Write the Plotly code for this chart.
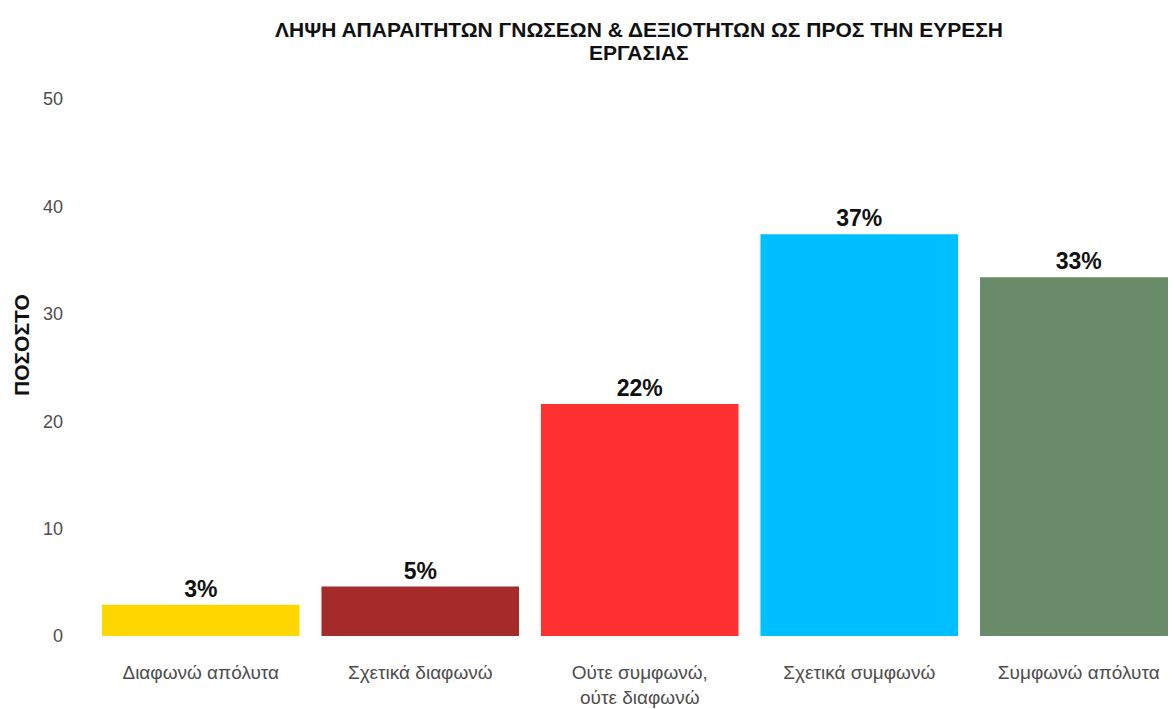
import plotly.graph_objects as go

categories = ["Διαφωνώ απόλυτα", "Σχετικά διαφωνώ", "Ούτε συμφωνώ,<br>ούτε διαφωνώ",
              "Σχετικά συμφωνώ", "Συμφωνώ απόλυτα"]
values = [2.9, 4.6, 21.6, 37.4, 33.4]
colors = ["#FFD700", "#A52A2A", "#FF3030", "#00BFFF", "#698B69"]
y_ticks = [0, 10, 20, 30, 40, 50]
title_lines = ["ΛΗΨΗ ΑΠΑΡΑΙΤΗΤΩΝ ΓΝΩΣΕΩΝ & ΔΕΞΙΟΤΗΤΩΝ ΩΣ ΠΡΟΣ ΤΗΝ ΕΥΡΕΣΗ", "ΕΡΓΑΣΙΑΣ"]

W, H = 1176, 709
L, R, T, B = 83, 0, 91, 81
PW, PH = W - L - R, H - T - B
bottom = H - B

def py(y):
    return (bottom - y) / PH

def px(x):
    return (x - L) / PW

FONT = "Liberation Sans, Arial, sans-serif"

fig = go.Figure(go.Bar(
    x=categories, y=values, marker=dict(color=colors, line=dict(width=0)),
    texttemplate="<b>%{y:.0f}%</b>", textposition="outside", cliponaxis=False,
    textfont=dict(family=FONT, size=23, color="#111111"),
    width=0.9,
))

annotations = [
    dict(text="<b>" + title_lines[0] + "</b>", showarrow=False, xref="paper", yref="paper",
         x=px(631), y=py(21), xanchor="center", yanchor="middle",
         font=dict(family=FONT, size=21, color="#111111")),
    dict(text="<b>" + title_lines[1] + "</b>", showarrow=False, xref="paper", yref="paper",
         x=px(631), y=py(45), xanchor="center", yanchor="middle",
         font=dict(family=FONT, size=21, color="#111111")),
    dict(text="<b>ΠΟΣΟΣΤΟ</b>", textangle=-90, showarrow=False,
         xref="paper", yref="paper", x=px(13), y=py(337),
         xanchor="center", yanchor="middle",
         font=dict(family=FONT, size=21, color="#111111")),
]

fig.update_layout(
    width=W, height=H, margin=dict(l=L, r=R, t=T, b=B),
    plot_bgcolor="white", paper_bgcolor="white", showlegend=False,
    xaxis=dict(range=[-0.5, PW / 219.5 - 0.5], showgrid=False, zeroline=False, showline=False,
               ticks="", ticklabelstandoff=23,
               tickfont=dict(family=FONT, size=19, color="#4d4d4d")),
    yaxis=dict(range=[0, 50], tickvals=y_ticks, showgrid=False, zeroline=False, showline=False,
               ticks="", ticklabelstandoff=27, tickprefix="<b>", ticksuffix="</b>",
               tickfont=dict(family=FONT, size=18, color="#4d4d4d")),
    annotations=annotations,
)

fig.write_html("out.html")
